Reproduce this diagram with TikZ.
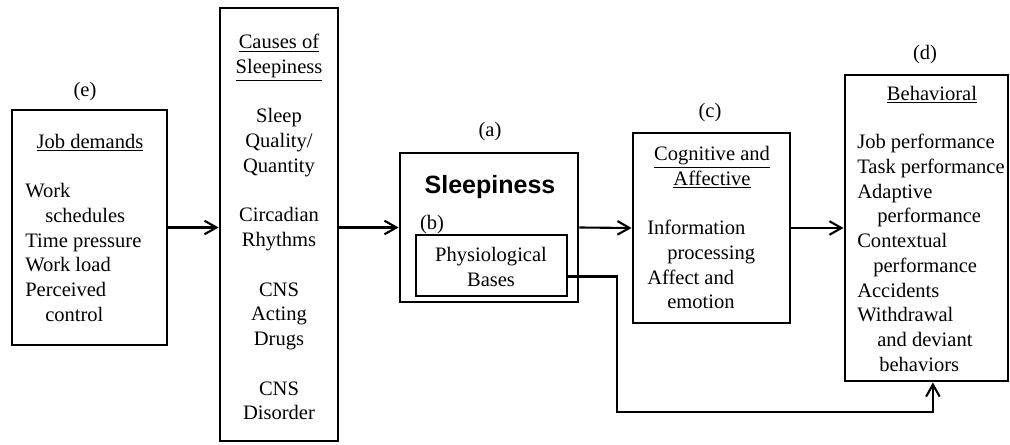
\documentclass[tikz,border=0pt]{standalone}
\usepackage{fontspec}
\setmainfont{Liberation Serif}
\newfontfamily\sleepfont{Liberation Sans}
\usetikzlibrary{arrows.meta}

\tikzset{
  box/.style={draw,line width=2pt,inner sep=0pt},
  lbl/.style={inner sep=0pt},
  lst/.style={inner sep=0pt,align=left,anchor=north west},
  hdr/.style={inner sep=0pt,align=center,anchor=north},
  arr/.style={line width=1.5pt,-{Straight Barb[length=0.3cm,width=0.34cm,line width=1.5pt]}},
}

\begin{document}
\begin{tikzpicture}[x=0.025cm,y=-0.025cm,
    every node/.append style={font=\fontsize{14.6}{17.6}\selectfont}]
  \useasboundingbox (0,0) rectangle (1010,445);

  % boxes
  \node[box,minimum width=3.875cm,minimum height=5.875cm] (jobs)   at (89.5,227.5) {};
  \node[box,minimum width=2.95cm, minimum height=10.825cm] (causes) at (279,224.5) {};
  \node[box,minimum width=4.45cm, minimum height=3.725cm] (sleep)  at (489,227.5) {};
  \node[box,minimum width=3.775cm,minimum height=1.525cm] (phys)   at (491.5,265.5) {};
  \node[box,minimum width=3.925cm,minimum height=4.75cm]  (cogn)   at (711.5,228) {};
  \node[box,minimum width=4.075cm,minimum height=7.65cm]  (behav)  at (926.5,228) {};

  % letters
  \node[lbl] (le) at (85,92)  {(e)};
  \node[lbl] (la) at (490,132) {(a)};
  \node[lbl] (lb) at (432,225) {(b)};
  \node[lbl] (lc) at (710,113) {(c)};
  \node[lbl] (ld) at (925,55)  {(d)};

  % texts
  \node[hdr] (jobshd) at (90,134) {\underline{Job demands}};
  \node[lst] (jobslst) at (25,183) {Work\\\hspace*{0.5cm}schedules\\Time pressure\\Work load\\Perceived\\\hspace*{0.5cm}control};
  \node[hdr] (causestxt) at (279,34) {\underline{Causes of}\\\underline{Sleepiness}\\[17.6pt]
    Sleep\\Quality/\\Quantity\\[17.6pt]
    Circadian\\Rhythms\\[17.6pt]
    CNS\\Acting\\Drugs\\[17.6pt]
    CNS\\Disorder};
  \node[lbl,font=\sleepfont\bfseries\fontsize{17.8}{20}\selectfont] (sleeptxt) at (490,187) {Sleepiness};
  \node[lbl,align=center] (phystxt) at (491,267) {Physiological\\Bases};
  \node[hdr] (cognhd) at (712,146) {\underline{Cognitive and}\\\underline{Affective}};
  \node[lst] (cognlst) at (647,220) {Information\\\hspace*{0.5cm}processing\\Affect and\\\hspace*{0.5cm}emotion};
  \node[hdr] (behavhd) at (932,86) {\underline{Behavioral}};
  \node[lst] (behavlst) at (857,134) {Job performance\\Task performance\\Adaptive\\\hspace*{0.5cm}performance\\Contextual\\\hspace*{0.4cm}performance\\Accidents\\Withdrawal\\\hspace*{0.5cm}and deviant\\\hspace*{0.55cm}behaviors};

  % arrows
  \coordinate (turn) at (617,412);
  \draw[arr] (jobs.east) -- (jobs.east -| causes.west);
  \draw[arr] (causes.east |- sleep.west) -- (sleep.west);
  \draw[arr] (sleep.east) -- (cogn.west);
  \draw[arr] (cogn.east) -- (behav.west);
  \draw[arr] ([yshift=-0.275cm]phys.east) -| (turn) -| ([xshift=0.16cm]behav.south);
\end{tikzpicture}
\end{document}
